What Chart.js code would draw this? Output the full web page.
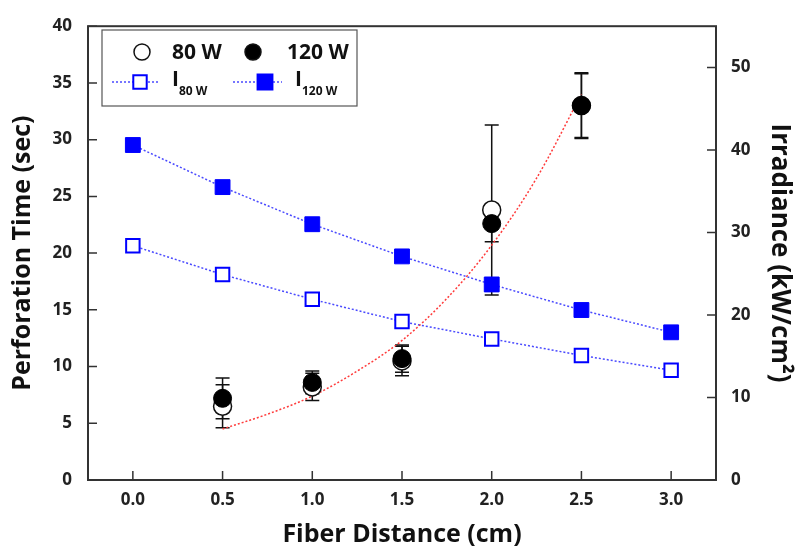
<!DOCTYPE html>
<html>
<head>
<meta charset="utf-8">
<script src="https://cdn.jsdelivr.net/npm/chart.js@4.4.1/dist/chart.umd.min.js"></script>
<style>
  html, body { margin: 0; padding: 0; background: #fff; }
  #wrap { width: 804px; height: 553px; position: relative; }
</style>
</head>
<body>
<div id="wrap"><canvas id="grafica"></canvas></div>
<script>
// ===== datos =====
const distance = [0.0, 0.5, 1.0, 1.5, 2.0, 2.5, 3.0];
const irr80 = [28.4, 24.9, 21.9, 19.2, 17.1, 15.1, 13.3];
const irr120 = [40.6, 35.5, 31.0, 27.1, 23.7, 20.6, 17.9];

const timeX = [0.5, 1.0, 1.5, 2.0, 2.5];
const time80 = [6.5, 8.2, 10.5, 23.8, 33.0];
const err80 = [1.9, 1.2, 1.3, 7.5, 2.8];
const time120 = [7.2, 8.6, 10.7, 22.6, 33.0];
const err120 = [1.8, 1.0, 1.2, 1.6, 2.9];

// curva de ajuste
const fitX = [0.5, 0.75, 1.0, 1.25, 1.5, 1.75, 2.0, 2.25, 2.5];
const fitY = [4.5, 5.8, 7.4, 9.6, 12.3, 16.0, 20.7, 26.6, 34.0];

const xTicks = [0.0, 0.5, 1.0, 1.5, 2.0, 2.5, 3.0];
const leftTicks = [0, 5, 10, 15, 20, 25, 30, 35, 40];
const rightTicks = [0, 10, 20, 30, 40, 50];

const FONT = "'Open Sans', sans-serif";
const BLUE = "#0000ff";
const LINE_BLUE = "#4a4aff";
const RED = "#ff3b3b";

const pts = (xs, ys) => xs.map((x, i) => ({ x: x, y: ys[i] }));

// ===== plugin: caja, ticks internos, barras de error, leyenda =====
const extras = {
  id: "extras",
  beforeDatasetsDraw(chart) {
    const ctx = chart.ctx;
    const xs = chart.scales.x, ys = chart.scales.y;
    ctx.save();
    ctx.strokeStyle = "#111";
    ctx.lineWidth = 1.5;
    const bars = [[time80, err80], [time120, err120]];
    bars.forEach(([vals, errs]) => {
      timeX.forEach((x, i) => {
        const px = xs.getPixelForValue(x);
        const top = ys.getPixelForValue(vals[i] + errs[i]);
        const bot = ys.getPixelForValue(vals[i] - errs[i]);
        ctx.beginPath();
        ctx.moveTo(px, top); ctx.lineTo(px, bot);
        ctx.moveTo(px - 7, top); ctx.lineTo(px + 7, top);
        ctx.moveTo(px - 7, bot); ctx.lineTo(px + 7, bot);
        ctx.stroke();
      });
    });
    ctx.restore();
  },
  afterDraw(chart) {
    const ctx = chart.ctx;
    const a = chart.chartArea;
    const xs = chart.scales.x, ys = chart.scales.y, y2 = chart.scales.y2;
    ctx.save();
    ctx.strokeStyle = "#333";
    ctx.lineWidth = 2;
    ctx.strokeRect(a.left, a.top, a.right - a.left, a.bottom - a.top);

    // ticks hacia adentro
    ctx.lineWidth = 1.5;
    ctx.beginPath();
    ys.ticks.forEach((t) => {
      const p = ys.getPixelForValue(t.value);
      ctx.moveTo(a.left, p); ctx.lineTo(a.left + 9, p);
    });
    y2.ticks.forEach((t) => {
      const p = y2.getPixelForValue(t.value);
      ctx.moveTo(a.right, p); ctx.lineTo(a.right - 9, p);
    });
    xs.ticks.forEach((t) => {
      const p = xs.getPixelForValue(t.value);
      ctx.moveTo(p, a.bottom); ctx.lineTo(p, a.bottom - 9);
    });
    ctx.stroke();

    // leyenda
    const lx = 102, ly = 30, lw = 255, lh = 76;
    ctx.fillStyle = "#fff";
    ctx.fillRect(lx, ly, lw, lh);
    ctx.strokeStyle = "#555";
    ctx.lineWidth = 1.2;
    ctx.strokeRect(lx, ly, lw, lh);

    const h = Chart.helpers;
    ctx.lineWidth = 1.5;
    ctx.strokeStyle = "#111";
    ctx.fillStyle = "#fff";
    h.drawPoint(ctx, { pointStyle: "circle", radius: 8, borderWidth: 1.5 }, 142, 52);
    ctx.fillStyle = "#000";
    h.drawPoint(ctx, { pointStyle: "circle", radius: 8, borderWidth: 1.5 }, 253, 52);

    ctx.fillStyle = "#111";
    ctx.font = "bold 21px " + FONT;
    ctx.textBaseline = "middle";
    ctx.textAlign = "left";
    ctx.fillText("80 W", 172, 53);
    ctx.fillText("120 W", 287, 53);

    // lineas de irradiancia
    ctx.strokeStyle = LINE_BLUE;
    ctx.lineWidth = 1.5;
    ctx.setLineDash([2, 2]);
    ctx.beginPath();
    ctx.moveTo(112, 82); ctx.lineTo(160, 82);
    ctx.moveTo(233, 82); ctx.lineTo(282, 82);
    ctx.stroke();
    ctx.setLineDash([]);
    ctx.strokeStyle = BLUE;
    ctx.lineWidth = 2;
    ctx.fillStyle = "#fff";
    h.drawPoint(ctx, { pointStyle: "rect", radius: 9.5, borderWidth: 2 }, 140, 82);
    ctx.fillStyle = BLUE;
    h.drawPoint(ctx, { pointStyle: "rect", radius: 10.5, borderWidth: 1 }, 265, 82);

    ctx.fillStyle = "#111";
    ctx.font = "bold 21px " + FONT;
    ctx.fillText("I", 172, 80);
    ctx.fillText("I", 295, 80);
    ctx.font = "bold 12px " + FONT;
    ctx.fillText("80 W", 179, 92);
    ctx.fillText("120 W", 302, 92);
    ctx.restore();
  }
};

const ctx = document.getElementById("grafica").getContext("2d");

new Chart(ctx, {
  type: "scatter",
  data: {
    datasets: [
      {
        label: "I 80 W",
        data: pts(distance, irr80),
        yAxisID: "y2",
        showLine: true,
        borderColor: LINE_BLUE,
        borderWidth: 1.5,
        borderDash: [2, 2],
        pointStyle: "rect",
        pointRadius: 9.5,
        pointBorderWidth: 2,
        pointBorderColor: BLUE,
        pointBackgroundColor: "#fff",
        order: 4
      },
      {
        label: "I 120 W",
        data: pts(distance, irr120),
        yAxisID: "y2",
        showLine: true,
        borderColor: LINE_BLUE,
        borderWidth: 1.5,
        borderDash: [2, 2],
        pointStyle: "rect",
        pointRadius: 10.5,
        pointBorderWidth: 1,
        pointBorderColor: BLUE,
        pointBackgroundColor: BLUE,
        order: 3
      },
      {
        label: "fit",
        data: pts(fitX, fitY),
        yAxisID: "y",
        showLine: true,
        borderColor: RED,
        borderWidth: 1.5,
        borderDash: [2, 2],
        cubicInterpolationMode: "monotone",
        pointRadius: 0,
        order: 2
      },
      {
        label: "80 W",
        data: pts(timeX, time80),
        yAxisID: "y",
        pointStyle: "circle",
        pointRadius: 9,
        pointBorderWidth: 1.5,
        pointBorderColor: "#111",
        pointBackgroundColor: "#fff",
        order: 1
      },
      {
        label: "120 W",
        data: pts(timeX, time120),
        yAxisID: "y",
        pointStyle: "circle",
        pointRadius: 9,
        pointBorderWidth: 1,
        pointBorderColor: "#000",
        pointBackgroundColor: "#000",
        order: 0
      }
    ]
  },
  options: {
    responsive: true,
    maintainAspectRatio: false,
    animation: false,
    layout: { padding: { top: 17, left: 0, right: 0, bottom: 0 } },
    plugins: {
      legend: { display: false },
      tooltip: { enabled: false }
    },
    scales: {
      x: {
        type: "linear",
        min: -0.25,
        max: 3.25,
        afterBuildTicks: (s) => { s.ticks = xTicks.map((v) => ({ value: v })); },
        afterFit: (s) => { s.height = 73; },
        grid: { display: false, drawTicks: false },
        border: { display: false },
        ticks: {
          color: "#222",
          padding: 10,
          font: { family: FONT, size: 17, weight: "bold" },
          callback: (v) => Number(v).toFixed(1)
        },
        title: {
          display: true,
          text: "Fiber Distance (cm)",
          color: "#111",
          font: { family: FONT, size: 25, weight: "bold" },
          padding: { top: 0, bottom: 3 }
        }
      },
      y: {
        position: "left",
        min: 0,
        max: 40,
        afterBuildTicks: (s) => { s.ticks = leftTicks.map((v) => ({ value: v })); },
        afterFit: (s) => { s.width = 88; },
        grid: { display: false, drawTicks: false },
        border: { display: false },
        ticks: {
          color: "#222",
          padding: 16,
          font: { family: FONT, size: 17, weight: "bold" }
        },
        title: {
          display: true,
          text: "Perforation Time (sec)",
          color: "#111",
          font: { family: FONT, size: 25, weight: "bold" },
          padding: { top: 8, bottom: 0 }
        }
      },
      y2: {
        position: "right",
        min: 0,
        max: 55,
        afterBuildTicks: (s) => { s.ticks = rightTicks.map((v) => ({ value: v })); },
        afterFit: (s) => { s.width = 88; },
        grid: { display: false, drawTicks: false },
        border: { display: false },
        ticks: {
          color: "#222",
          padding: 15,
          font: { family: FONT, size: 17, weight: "bold" }
        },
        title: {
          display: true,
          text: "Irradiance (kW/cm²)",
          color: "#111",
          font: { family: FONT, size: 26, weight: "bold" },
          padding: { top: 9, bottom: 0 }
        }
      }
    }
  },
  plugins: [extras]
});
</script>
</body>
</html>
